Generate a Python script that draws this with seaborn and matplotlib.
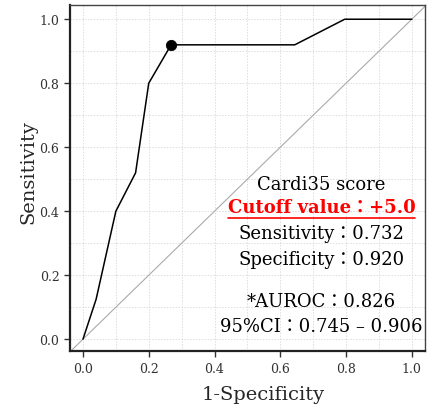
import matplotlib
matplotlib.use("Agg")
import matplotlib.pyplot as plt
import seaborn as sns
import pandas as pd
import numpy as np

fpr = [0.0, 0.04, 0.10, 0.16, 0.20, 0.268, 0.644, 0.796, 1.0]
tpr = [0.0, 0.125, 0.40, 0.52, 0.80, 0.920, 0.920, 1.0, 1.0]
cut_x = [0.268]
cut_y = [0.920]
ticks = [0.0, 0.2, 0.4, 0.6, 0.8, 1.0]
tick_labels = ["0.0", "0.2", "0.4", "0.6", "0.8", "1.0"]
lines = ["Cardi35 score", "Cutoff value\uff1a+5.0", "Sensitivity\uff1a0.732",
         "Specificity\uff1a0.920", "*AUROC\uff1a0.826", "95%CI\uff1a0.745 \u2013 0.906"]

sns.set_theme(style="white")
plt.rcParams['font.family'] = ['DejaVu Serif', 'Noto Sans CJK JP']
fam = ['DejaVu Serif', 'Noto Sans CJK JP']

fig = plt.figure(figsize=(4.31, 4.10), dpi=100)
ax = fig.add_axes([0.162, 0.141, 0.824, 0.844])

df = pd.DataFrame({"fpr": fpr, "tpr": tpr})
ax.axline((0, 0), slope=1, color="#aaaaaa", lw=0.8, zorder=1)
sns.lineplot(data=df, x="fpr", y="tpr", sort=False, color="black", lw=1.1, ax=ax, zorder=3)
sns.scatterplot(x=cut_x, y=cut_y, color="black", s=55, ax=ax, zorder=4, edgecolor="black")

ax.set_xlim(-0.04, 1.04)
ax.set_ylim(-0.0375, 1.044)
ax.set_xticks(ticks)
ax.set_xticklabels(tick_labels)
ax.set_yticks(ticks)
ax.set_yticklabels(tick_labels)
ax.set_xticks(np.arange(0.1, 1.0, 0.2), minor=True)
ax.set_yticks(np.arange(0.1, 1.0, 0.2), minor=True)
ax.grid(True, which="both", color="#dddddd", ls=(0, (1.5, 1.5)), lw=0.7)
ax.tick_params(axis="both", which="major", direction="out", length=4, width=1.0,
               color="#333333", labelsize=9, labelcolor="#333333", bottom=True, left=True)
ax.tick_params(axis="both", which="minor", length=0)
for s in ["left", "bottom"]:
    ax.spines[s].set_color("#222222")
    ax.spines[s].set_linewidth(1.6)
for s in ["top", "right"]:
    ax.spines[s].set_color("#444444")
    ax.spines[s].set_linewidth(1.0)

ax.set_xlabel("1-Specificity", fontsize=14)
ax.set_ylabel("Sensitivity", fontsize=14)
ax.xaxis.set_label_coords(0.544, -0.098)
ax.yaxis.set_label_coords(-0.09, 0.52)

xc = 0.725
ys = [0.484, 0.412, 0.332, 0.251, 0.120, 0.040]
txts = []
for t, y in zip(lines, ys):
    if t.startswith("Cutoff"):
        tx = ax.text(xc, y, t, color="red", fontsize=13, fontweight="bold",
                     ha="center", va="center", family=fam, zorder=5)
    else:
        tx = ax.text(xc, y, t, color="black", fontsize=13,
                     ha="center", va="center", family=fam, zorder=5)
    txts.append(tx)

fig.canvas.draw()
r = fig.canvas.get_renderer()
bb = txts[1].get_window_extent(renderer=r)
inv = ax.transData.inverted()
(x0, y0), (x1, y1) = inv.transform([(bb.x0, bb.y0), (bb.x1, bb.y0)])
ax.plot([x0, x1], [y0 - 0.005, y1 - 0.005], color="red", lw=1.2, zorder=5)
ax.set_xlim(-0.04, 1.04)
ax.set_ylim(-0.0375, 1.044)

fig.savefig("out.png", dpi=100)
